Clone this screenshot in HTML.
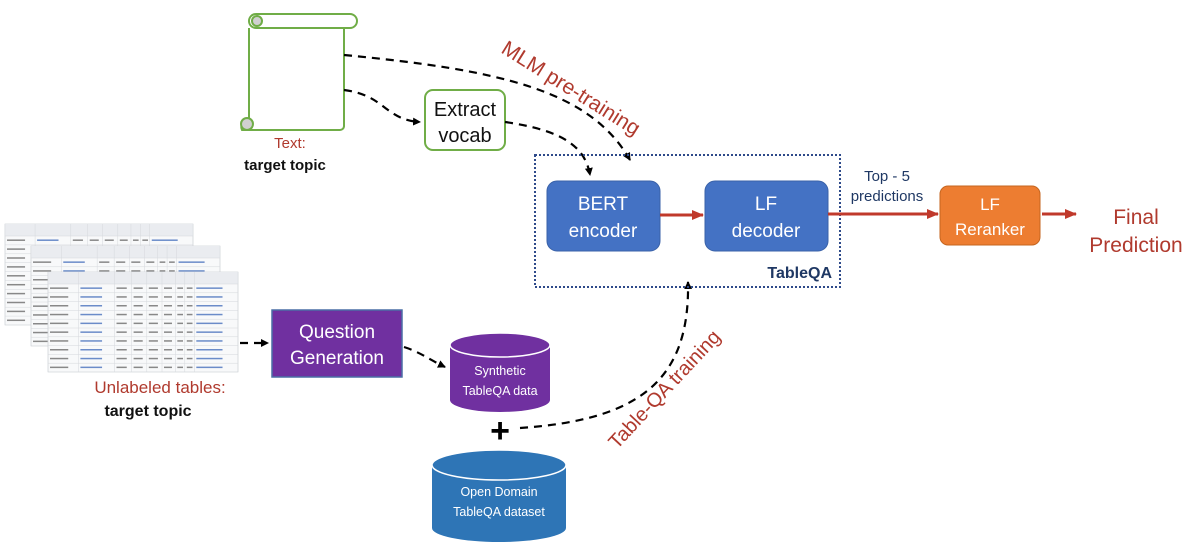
<!DOCTYPE html>
<html><head><meta charset="utf-8"><style>
html,body{margin:0;padding:0;background:#fff;}
svg{display:block;font-family:"Liberation Sans",sans-serif;}
</style></head><body>
<svg id="s" width="1200" height="550" viewBox="0 0 1200 550" xmlns="http://www.w3.org/2000/svg">
<defs>
<marker id="ab" markerWidth="8" markerHeight="8" refX="7" refY="4" orient="auto" markerUnits="userSpaceOnUse"><path d="M0,0 L8,4 L0,8 Z" fill="#000"/></marker>
<marker id="ar" markerWidth="12" markerHeight="10" refX="11" refY="5" orient="auto" markerUnits="userSpaceOnUse"><path d="M0,0 L12,5 L0,10 Z" fill="#c0392b"/></marker>
</defs>
<g id="tables"></g>

<!-- scroll -->
<g stroke="#70ad47" stroke-width="2" fill="#fff">
<path d="M249,28 L249,124 L242,124 A7,7 0 0 0 242,130 L340,130 A4,4 0 0 0 344,126 L344,28"/>
<rect x="249" y="14" width="108" height="14" rx="7"/>
<circle cx="257" cy="21" r="5" fill="#d0d0d0"/>
<circle cx="247" cy="124" r="6" fill="#d0d0d0"/>
</g>
<text x="290" y="148" font-size="15" fill="#b03a2e" text-anchor="middle">Text:</text>
<text x="285" y="170" font-size="15" font-weight="bold" fill="#111" text-anchor="middle">target topic</text>

<!-- extract vocab -->
<rect x="425" y="90" width="80" height="60" rx="8" fill="#fff" stroke="#70ad47" stroke-width="2"/>
<text x="465" y="116" font-size="20" text-anchor="middle" fill="#111">Extract</text>
<text x="465" y="142" font-size="20" text-anchor="middle" fill="#111">vocab</text>

<!-- dashed connectors -->
<g fill="none" stroke="#000" stroke-width="2.2" stroke-dasharray="8,6">
<path d="M344,55 C500,70 590,90 630,160" marker-end="url(#ab)"/>
<path d="M344,90 C385,95 385,120 420,122" marker-end="url(#ab)"/>
<path d="M505,122 C560,130 585,145 590,175" marker-end="url(#ab)"/>
<path d="M240,343 L268,343" marker-end="url(#ab)"/>
<path d="M404,347 C420,352 430,360 445,367" marker-end="url(#ab)"/>
<path d="M520,428 C640,420 690,380 688,282" marker-end="url(#ab)"/>
</g>
<text transform="translate(500,52) rotate(32)" font-size="21" fill="#b03a2e">MLM pre-training</text>
<text transform="translate(617,450) rotate(-47)" font-size="20" fill="#b03a2e">Table-QA training</text>

<!-- TableQA box -->
<rect x="535" y="155" width="305" height="132" fill="none" stroke="#2e4a8a" stroke-width="2" stroke-dasharray="2,2"/>
<text x="832" y="278" font-size="16" font-weight="bold" fill="#1f3864" text-anchor="end">TableQA</text>
<rect x="547" y="181" width="113" height="70" rx="10" fill="#4472c4" stroke="#3a62a8"/>
<text x="603" y="210" font-size="19" fill="#fff" text-anchor="middle">BERT</text>
<text x="603" y="237" font-size="19" fill="#fff" text-anchor="middle">encoder</text>
<rect x="705" y="181" width="123" height="70" rx="10" fill="#4472c4" stroke="#3a62a8"/>
<text x="766" y="210" font-size="19" fill="#fff" text-anchor="middle">LF</text>
<text x="766" y="237" font-size="19" fill="#fff" text-anchor="middle">decoder</text>
<rect x="940" y="186" width="100" height="59" rx="8" fill="#ed7d31" stroke="#c5651f"/>
<text x="990" y="210" font-size="17" fill="#fff" text-anchor="middle">LF</text>
<text x="990" y="235" font-size="17" fill="#fff" text-anchor="middle">Reranker</text>
<g stroke="#c0392b" stroke-width="3" fill="none">
<path d="M660,215 L703,215" marker-end="url(#ar)"/>
<path d="M828,214 L938,214" marker-end="url(#ar)"/>
<path d="M1042,214 L1076,214" marker-end="url(#ar)"/>
</g>
<text x="887" y="181" font-size="15" fill="#1f3864" text-anchor="middle">Top - 5</text>
<text x="887" y="201" font-size="15" fill="#1f3864" text-anchor="middle">predictions</text>
<text x="1136" y="224" font-size="21" fill="#b03a2e" text-anchor="middle">Final</text>
<text x="1136" y="252" font-size="21" fill="#b03a2e" text-anchor="middle">Prediction</text>

<!-- question generation -->
<rect x="272" y="310" width="130" height="67" fill="#7030a0" stroke="#4a6fa5" stroke-width="1.5"/>
<text x="337" y="338" font-size="19" fill="#fff" text-anchor="middle">Question</text>
<text x="337" y="364" font-size="19" fill="#fff" text-anchor="middle">Generation</text>
<text x="160" y="393" font-size="17" fill="#b03a2e" text-anchor="middle">Unlabeled tables:</text>
<text x="148" y="416" font-size="16" font-weight="bold" fill="#111" text-anchor="middle">target topic</text>

<!-- cylinders -->
<g>
<path d="M450,345 L450,400 A50,12 0 0 0 550,400 L550,345" fill="#7030a0"/>
<ellipse cx="500" cy="345" rx="50" ry="12" fill="#7030a0" stroke="#fff" stroke-width="1.5"/>
<text x="500" y="375" font-size="12.5" fill="#fff" text-anchor="middle">Synthetic</text>
<text x="500" y="395" font-size="12.5" fill="#fff" text-anchor="middle">TableQA data</text>
<path d="M432,465 L432,528 A67,14 0 0 0 566,528 L566,465" fill="#2e75b6"/>
<ellipse cx="499" cy="465" rx="67" ry="15" fill="#2e75b6" stroke="#fff" stroke-width="1.5"/>
<text x="499" y="496" font-size="12.5" fill="#fff" text-anchor="middle">Open Domain</text>
<text x="499" y="516" font-size="12.5" fill="#fff" text-anchor="middle">TableQA dataset</text>
</g>
<text x="500" y="442" font-size="34" font-weight="bold" fill="#000" text-anchor="middle">+</text>
</svg>
<script>
(function(){
var g=document.getElementById('tables'),ns='http://www.w3.org/2000/svg';
function el(n,a){var e=document.createElementNS(ns,n);for(var k in a)e.setAttribute(k,a[k]);g.appendChild(e);return e;}
function table(x,y,w,h){
 el('rect',{x:x,y:y,width:w,height:h,fill:'#f8f9fa',stroke:'#c8ccd1','stroke-width':0.6});
 el('rect',{x:x,y:y,width:w,height:12,fill:'#eaecf0'});
 var cols=[0,.16,.35,.44,.52,.6,.67,.72,.77,1];
 cols.forEach(function(c){el('line',{x1:x+c*w,y1:y,x2:x+c*w,y2:y+h,stroke:'#d5d8dc','stroke-width':0.5});});
 var rows=10;for(var i=0;i<rows;i++){var yy=y+12+i*(h-12)/rows;
  el('line',{x1:x,y1:yy,x2:x+w,y2:yy,stroke:'#d5d8dc','stroke-width':0.5});
  for(var j=0;j<cols.length-1;j++){var cx=x+cols[j]*w+2,cw=(cols[j+1]-cols[j])*w*0.6;
   el('rect',{x:cx,y:yy+(h-12)/rows/2-1,width:cw,height:1.5,fill:(j==1||j==8)?'#6b8cc9':'#888'});}
 }
}
table(5,224,188,101);
table(31,246,189,100);
table(48,272,190,100);
})();
</script>
</body></html>
